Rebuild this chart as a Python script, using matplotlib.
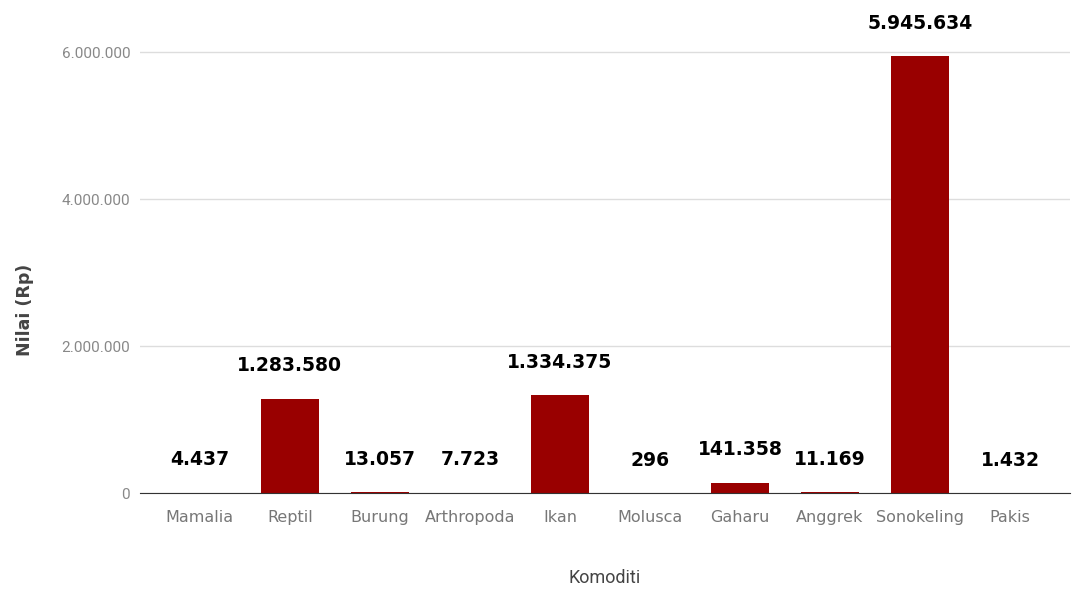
import numpy as np
import matplotlib
matplotlib.use('Agg')
import matplotlib.pyplot as plt
from matplotlib.ticker import FuncFormatter


komoditi = ['Mamalia', 'Reptil', 'Burung', 'Arthropoda', 'Ikan',
            'Molusca', 'Gaharu', 'Anggrek', 'Sonokeling', 'Pakis']
nilai = [4437, 1283580, 13057, 7723, 1334375, 296, 141358, 11169, 5945634, 1432]
y_ticks = [0, 2000000, 4000000, 6000000]


def titik(v, pos=None):
    # format angka gaya Indonesia: 6.000.000
    return '{:,.0f}'.format(v).replace(',', '.')


def main():
    fig = plt.figure(figsize=(10.76, 5.92), dpi=100)
    ax = fig.add_axes([0.130, 0.167, 0.8644, 0.816])

    x = np.arange(len(komoditi))
    ax.bar(x, nilai, width=0.64, color='#990000', zorder=3)

    # label nilai di atas batang
    for xi, v in zip(x, nilai):
        ax.annotate(titik(v), (xi, v), xytext=(0, 33), textcoords='offset pixels',
                    ha='center', va='center', fontsize=13.5, fontweight='bold',
                    family='DejaVu Sans', color='#000000', annotation_clip=False)

    ax.set_xlim(-0.667, 9.667)
    ax.set_ylim(0, 6.571e6)
    ax.set_yticks(y_ticks)
    ax.yaxis.set_major_formatter(FuncFormatter(titik))
    ax.set_xticks(x)
    ax.set_xticklabels(komoditi, family='DejaVu Sans', fontsize=11.5, color='#777777')
    for lbl in ax.get_yticklabels():
        lbl.set_family('Roboto')
        lbl.set_fontsize(11)
        lbl.set_color('#888888')

    ax.grid(axis='y', color='#dddddd', linewidth=1, zorder=0)
    for s in ['top', 'right', 'left']:
        ax.spines[s].set_visible(False)
    ax.spines['bottom'].set_color('#333333')
    ax.spines['bottom'].set_zorder(4)
    ax.tick_params(axis='both', length=0)
    ax.tick_params(axis='x', pad=12)
    ax.tick_params(axis='y', pad=7)

    fig.text(605 / 1076, 1 - 578 / 592, 'Komoditi', family='Roboto', fontsize=13,
             color='#444444', ha='center', va='center')
    fig.text(25 / 1076, 1 - 310 / 592, 'Nilai (Rp)', family='DejaVu Sans', fontsize=12.5,
             fontweight='bold', color='#444444', ha='center', va='center', rotation=90)

    fig.savefig('out.png', dpi=100)


if __name__ == "__main__":
    main()
